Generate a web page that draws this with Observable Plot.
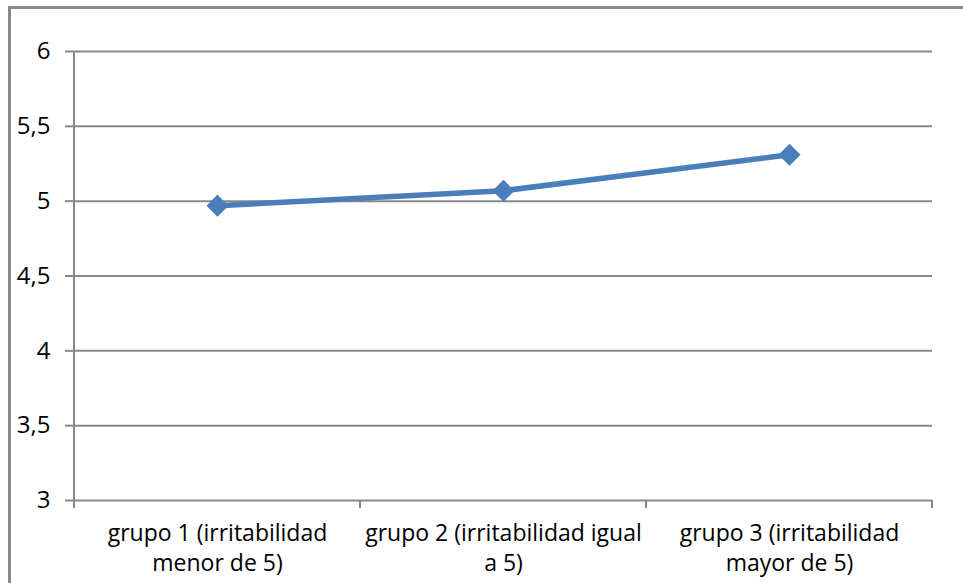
<!DOCTYPE html>
<html>
<head>
<meta charset="utf-8">
<script src="https://cdn.jsdelivr.net/npm/d3@7"></script>
<script src="https://cdn.jsdelivr.net/npm/@observablehq/plot@0.6"></script>
<style>
  html, body { margin: 0; padding: 0; background: #fff; }
  #wrap { position: relative; width: 963px; height: 583px; overflow: hidden; background: #fff; }
  #frame { position: absolute; left: 8px; top: 6px; width: 1000px; height: 700px; border: 3px solid #8a8a8a; box-sizing: border-box; pointer-events: none; }
  #chart { position: absolute; left: 0; top: 0; }
  #chart svg text { fill: #000; }
</style>
</head>
<body>
<div id="wrap"><div id="frame"></div><div id="chart"></div></div>
<script>
const categories = [
  "grupo 1 (irritabilidad\nmenor de 5)",
  "grupo 2 (irritabilidad igual\na 5)",
  "grupo 3 (irritabilidad\nmayor de 5)"
];
const values = [4.97, 5.07, 5.31];
const yTicks = [3, 3.5, 4, 4.5, 5, 5.5, 6];

const data = categories.map((c, i) => ({cat: c, v: values[i]}));
const fmt = d => String(d).replace(".", ",");
const gray = "#888888";

function frameTicks(index, scales, values, dims) {
  const x = scales.x, y = scales.y;
  const step = x.step ? x.step() : (x.range()[1] - x.range()[0]) / (categories.length);
  const first = x(categories[0]) - step / 2;
  const g = d3.create("svg:g").attr("stroke", gray).attr("stroke-width", 2);
  g.append("line")
    .attr("x1", first).attr("x2", first)
    .attr("y1", y(yTicks[0])).attr("y2", y(yTicks[yTicks.length - 1]));
  for (let i = 0; i <= categories.length; i++) {
    const xx = first + i * step;
    g.append("line").attr("x1", xx).attr("x2", xx)
      .attr("y1", y(yTicks[0])).attr("y2", y(yTicks[0]) + 8);
  }
  return g.node();
}

const chart = Plot.plot({
  width: 963,
  height: 583,
  marginLeft: 73,
  marginRight: 31,
  marginTop: 51,
  marginBottom: 83,
  style: {fontFamily: "'Open Sans', sans-serif", fontSize: "23px", color: "#000", background: "transparent"},
  x: {type: "point", domain: categories, padding: 0.5},
  y: {domain: [3, 6]},
  marks: [
    Plot.ruleY(yTicks, {stroke: gray, strokeWidth: 2, strokeOpacity: 1}),
    Plot.axisY(yTicks, {tickSize: 8, tickPadding: 15, tickFormat: fmt, stroke: gray, strokeWidth: 2, strokeOpacity: 1, label: null, fontSize: 24}),
    Plot.axisX({tickSize: 0, tickPadding: 19, label: null, lineHeight: 1.3, fontSize: 23}),
    frameTicks,
    Plot.line(data, {x: "cat", y: "v", stroke: "#4a7ebb", strokeWidth: 5.5}),
    Plot.dot(data, {x: "cat", y: "v", symbol: "diamond2", r: 9, fill: "#4a7ebb", stroke: "#4a7ebb"})
  ]
});
document.getElementById("chart").appendChild(chart);
</script>
</body>
</html>
